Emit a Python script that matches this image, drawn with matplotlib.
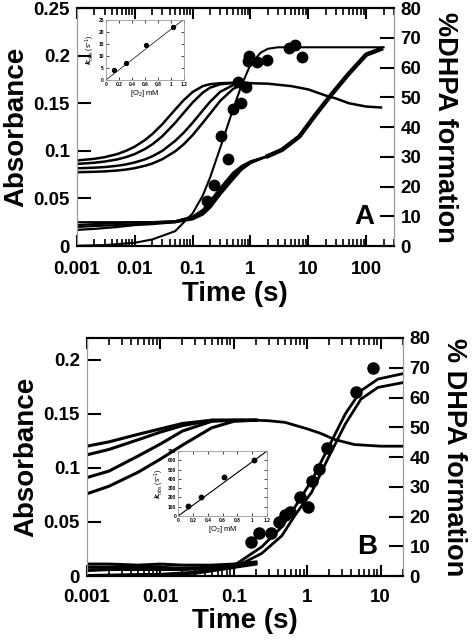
import matplotlib
matplotlib.use("Agg")
import matplotlib.pyplot as plt

plt.rcParams["font.family"] = ["Liberation Sans", "DejaVu Sans"]
plt.rcParams["font.weight"] = "bold"
plt.rcParams["mathtext.default"] = "regular"

# ---- panel A data ----
ta_fast = [0.001, 0.002, 0.003, 0.005, 0.007, 0.01, 0.015, 0.02, 0.03, 0.05,
           0.07, 0.1, 0.15, 0.2, 0.3, 0.5, 0.7, 1.0]
a_tr1 = [0.0898, 0.0916, 0.0933, 0.0966, 0.0999, 0.1044, 0.1113, 0.1175, 0.128, 0.1434,
         0.1532, 0.1618, 0.168, 0.170, 0.171, 0.1715, 0.1715, 0.171]
a_tr2 = [0.0862, 0.0875, 0.0887, 0.0910, 0.0933, 0.0966, 0.1019, 0.1067, 0.1154, 0.1294,
         0.1399, 0.1508, 0.1612, 0.1663, 0.1699, 0.1712, 0.1715, 0.171]
a_tr3 = [0.0816, 0.0823, 0.0829, 0.0843, 0.0857, 0.0878, 0.0910, 0.0942, 0.1000, 0.1105,
         0.1190, 0.1295, 0.1425, 0.1515, 0.1620, 0.1690, 0.1707, 0.171]
a_tr4 = [0.0775, 0.0780, 0.0784, 0.0793, 0.0803, 0.0818, 0.0843, 0.0866, 0.0912, 0.0995,
         0.1068, 0.1165, 0.1295, 0.1390, 0.1525, 0.1650, 0.1695, 0.171]
ta_slow = [1.0, 2.0, 5.0, 10.0, 20.0, 30.0, 50.0, 100.0, 180.0]
a_slow = [0.171, 0.1705, 0.168, 0.1645, 0.158, 0.155, 0.150, 0.1465, 0.1455]

ta_low = [0.001, 0.002, 0.005, 0.01, 0.02, 0.05, 0.1, 0.15, 0.2, 0.3, 0.5, 0.7, 1.0, 2.0]
a_low1 = [0.025, 0.025, 0.025, 0.025, 0.025, 0.026, 0.031, 0.038, 0.047, 0.061, 0.077, 0.084, 0.089, 0.0945]
a_low2 = [0.022, 0.023, 0.024, 0.025, 0.025, 0.026, 0.030, 0.036, 0.044, 0.058, 0.074, 0.082, 0.088, 0.0945]
a_low3 = [0.020, 0.021, 0.022, 0.023, 0.024, 0.025, 0.029, 0.034, 0.042, 0.056, 0.072, 0.081, 0.088, 0.0945]
a_low4 = [0.017, 0.018, 0.020, 0.022, 0.023, 0.025, 0.028, 0.033, 0.040, 0.054, 0.070, 0.080, 0.087, 0.0945]
ta_tail = [2.0, 3.5, 7.0, 13.0, 25.0, 50.0, 100.0, 180.0]
a_tail = [0.0945, 0.101, 0.115, 0.137, 0.159, 0.181, 0.201, 0.207]

ta_fit = [0.001, 0.003, 0.01, 0.02, 0.05, 0.1, 0.15, 0.2, 0.3, 0.5, 0.7, 1.0, 1.5, 2.0, 3.0, 200.0]
pa_fit = [0.1, 0.3, 1.1, 2.2, 5.0, 11.0, 17.0, 23.0, 33.0, 46.0, 54.0, 61.0, 65.0, 66.3, 66.8, 66.8]
ta_dots = [0.18, 0.235, 0.31, 0.41, 0.5, 0.68, 0.62, 0.82, 0.94, 0.91, 1.3, 1.9, 4.6, 5.9, 7.8]
pa_dots = [15.0, 20.5, 37.0, 29.3, 46.0, 48.0, 55.2, 53.5, 64.0, 62.3, 62.0, 62.5, 66.4, 67.6, 63.6]

o2_a = [0.13, 0.31, 0.62, 1.03]
kobs_a = [4.0, 7.0, 14.5, 22.0]
fit_x_a = [0.0, 1.2]
fit_y_a = [0.0, 25.3]

# ---- panel B data ----
tb_fast = [0.001, 0.002, 0.005, 0.01, 0.02, 0.05, 0.1, 0.2]
b_tr1 = [0.120, 0.124, 0.131, 0.136, 0.141, 0.144, 0.144, 0.144]
b_tr2 = [0.112, 0.117, 0.126, 0.133, 0.139, 0.144, 0.144, 0.144]
b_tr3 = [0.091, 0.097, 0.111, 0.122, 0.134, 0.143, 0.144, 0.144]
b_tr4 = [0.076, 0.083, 0.096, 0.108, 0.121, 0.137, 0.143, 0.144]
tb_slow = [0.2, 0.3, 0.5, 1.0, 1.5, 2.4, 4.4, 10.0, 20.0]
b_slow = [0.144, 0.1435, 0.142, 0.136, 0.132, 0.126, 0.1215, 0.120, 0.120]

tb_low = [0.001, 0.002, 0.005, 0.01, 0.02, 0.05, 0.1, 0.2]
b_low1 = [0.011, 0.011, 0.010, 0.011, 0.010, 0.010, 0.011, 0.013]
b_low2 = [0.008, 0.008, 0.008, 0.008, 0.007, 0.008, 0.009, 0.012]
b_low3 = [0.005, 0.006, 0.006, 0.006, 0.006, 0.007, 0.008, 0.011]

tb_fit = [0.001, 0.01, 0.03, 0.1, 0.24, 0.45, 0.68, 1.15, 1.95, 3.3, 5.4, 9.2, 20.0]
pb_fit1 = [0.2, 0.6, 1.3, 3.5, 9.8, 16.5, 23.2, 32.1, 43.3, 54.5, 62.3, 66.2, 68.0]
pb_fit2 = [0.1, 0.4, 0.9, 2.8, 7.6, 13.5, 20.4, 28.2, 39.9, 51.1, 59.5, 63.4, 65.0]
tb_dots = [0.173, 0.222, 0.323, 0.414, 0.50, 0.583, 0.796, 1.01, 1.17, 1.44, 1.88, 4.64, 7.8]
pb_dots = [11.5, 14.5, 14.3, 18.2, 20.4, 21.5, 26.5, 23.2, 31.9, 36.0, 43.1, 62.0, 69.9]

o2_b = [0.13, 0.31, 0.62, 1.03]
kobs_b = [110.0, 200.0, 415.0, 600.0]
fit_x_b = [0.0, 1.2]
fit_y_b = [0.0, 700.0]

GRAY = "#9a9a9a"


def style_main(ax, ax2, xticks, xlabels, yticks, ylabels, xpad):
    ax.set_xscale("log")
    ax.set_xticks(xticks, labels=xlabels)
    ax.set_yticks(yticks, labels=ylabels)
    ax2.set_yticks(range(0, 81, 10))
    ax2.set_ylim(0, 80)
    ax.tick_params(axis="x", which="major", direction="in", top=True, bottom=True,
                   length=8, width=1.5, labelsize=13.5, pad=xpad)
    ax.tick_params(axis="x", which="minor", direction="in", top=True, bottom=True,
                   length=5, width=1.2)
    ax.tick_params(axis="y", direction="in", length=10, width=1.5, labelsize=13.5, pad=5)
    ax2.tick_params(axis="y", direction="in", length=10, width=1.5, labelsize=13.5, pad=5)
    for a in (ax, ax2):
        a.spines["left"].set_color(GRAY)
        a.spines["right"].set_color(GRAY)
        a.spines["top"].set_linewidth(1.5)
        a.spines["bottom"].set_linewidth(1.5)
    ax.set_xlabel("Time (s)", fontsize=20, fontweight="bold", labelpad=2)


def style_inset(ins, yticks):
    ins.set_xlim(0, 1.2)
    ins.set_xticks([0, 0.2, 0.4, 0.6, 0.8, 1.0, 1.2], labels=["0", "0.2", "0.4", "0.6", "0.8", "1", "1.2"])
    ins.set_yticks(yticks)
    ins.set_ylim(yticks[0], yticks[-1])
    ins.tick_params(direction="in", length=2, width=0.5, labelsize=3.5, pad=1.5, top=True, right=True)
    for s in ins.spines.values():
        s.set_color(GRAY)
        s.set_linewidth(0.6)
    ins.set_xlabel("[O$_2$] mM", fontsize=5.5, labelpad=0.5)
    ins.set_ylabel("$\\mathit{k}_{obs}$ (s$^{-1}$)", fontsize=5, labelpad=1)


fig = plt.figure(figsize=(4.75, 6.41), dpi=100)

# ================= panel A =================
axA = fig.add_axes([0.162, 0.6162, 0.667, 0.3713])
axA2 = axA.twinx()
for tr in (a_tr1, a_tr2, a_tr3, a_tr4):
    axA.plot(ta_fast, tr, color="black", lw=1.8)
axA.plot(ta_slow, a_slow, color="black", lw=1.8)
for tr in (a_low1, a_low2, a_low3, a_low4):
    axA.plot(ta_low, tr, color="black", lw=1.6)
axA.plot(ta_tail, a_tail, color="black", lw=3.2)
axA2.plot(ta_fit, pa_fit, color="black", lw=1.5)
axA2.plot(ta_dots, pa_dots, "o", color="black", ms=7.5)
axA.set_xlim(0.001, 300)
axA.set_ylim(0, 0.25)
style_main(axA, axA2, [0.001, 0.01, 0.1, 1, 10, 100],
           ["0.001", "0.01", "0.1", "1", "10", "100"],
           [0, 0.05, 0.1, 0.15, 0.2, 0.25], ["0", "0.05", "0.1", "0.15", "0.2", "0.25"], 11)
axA.set_ylabel("Absorbance", fontsize=20, fontweight="bold", labelpad=3)
axA2.set_ylabel("%DHPA formation", fontsize=19.5, fontweight="bold", rotation=-90, labelpad=26)
axA2.text(0.94, 0.12, "A", transform=axA2.transAxes, fontsize=20, fontweight="bold",
          ha="right", va="center")

insA = fig.add_axes([0.223, 0.8752, 0.164, 0.0936])
insA.plot(fit_x_a, fit_y_a, color="black", lw=0.5)
insA.plot(o2_a, kobs_a, "o", color="black", ms=2.8)
style_inset(insA, [0, 5, 10, 15, 20, 25])

# ================= panel B =================
axB = fig.add_axes([0.183, 0.1014, 0.665, 0.3713])
axB2 = axB.twinx()
for tr in (b_tr1, b_tr2, b_tr3, b_tr4):
    axB.plot(tb_fast, tr, color="black", lw=2.2)
axB.plot(tb_slow, b_slow, color="black", lw=2.0)
for tr in (b_low1, b_low2, b_low3):
    axB.plot(tb_low, tr, color="black", lw=2.2)
axB2.plot(tb_fit, pb_fit1, color="black", lw=2.0)
axB2.plot(tb_fit, pb_fit2, color="black", lw=2.0)
axB2.plot(tb_dots, pb_dots, "o", color="black", ms=8)
axB.set_xlim(0.001, 20)
axB.set_ylim(0, 0.22)
style_main(axB, axB2, [0.001, 0.01, 0.1, 1, 10],
           ["0.001", "0.01", "0.1", "1", "10"],
           [0, 0.05, 0.1, 0.15, 0.2], ["0", "0.05", "0.1", "0.15", "0.2"], 9)
axB.set_ylabel("Absorbance", fontsize=20, fontweight="bold", labelpad=3)
axB2.set_ylabel("% DHPA formation", fontsize=19.5, fontweight="bold", rotation=-90, labelpad=26)
axB2.text(0.92, 0.12, "B", transform=axB2.transAxes, fontsize=20, fontweight="bold",
          ha="right", va="center")

insB = fig.add_axes([0.375, 0.195, 0.187, 0.1014])
insB.plot(fit_x_b, fit_y_b, color="black", lw=0.8)
insB.plot(o2_b, kobs_b, "o", color="black", ms=3.2)
style_inset(insB, [0, 100, 200, 300, 400, 500, 600, 700])

fig.savefig("out.png", dpi=100)
